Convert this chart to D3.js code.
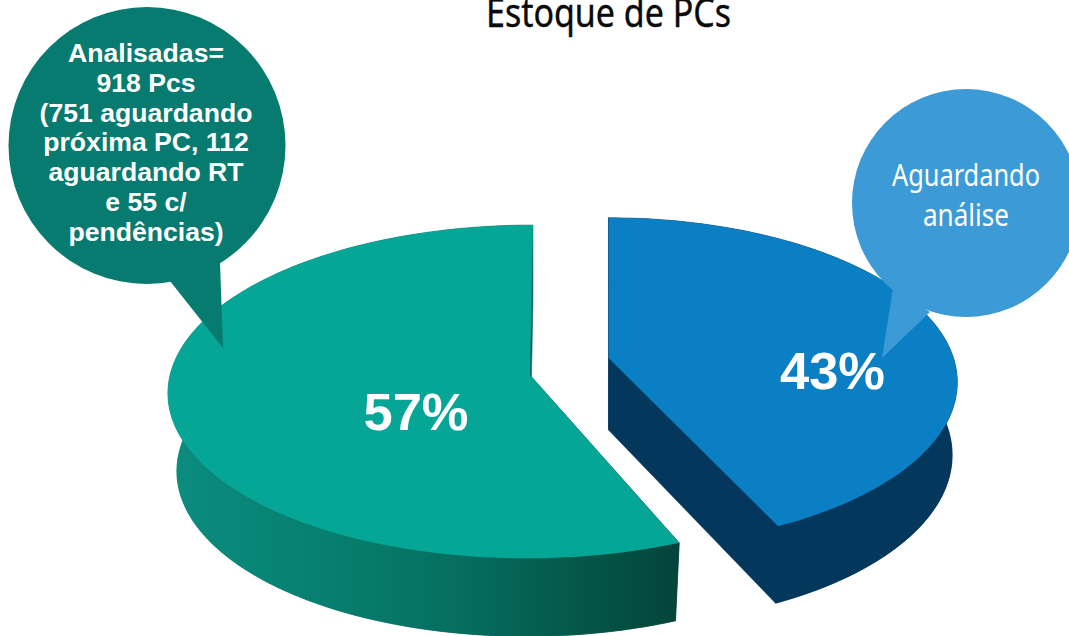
<!DOCTYPE html>
<html><head><meta charset="utf-8">
<script src="https://cdn.jsdelivr.net/npm/d3@7/dist/d3.min.js"></script>
<style>html,body{margin:0;padding:0;background:#fff;overflow:hidden}svg{display:block}</style>
</head><body><svg id="c" width="1069" height="636"></svg>
<script>
const categories = ["Aguardando análise", "Analisadas"];
const shares = [43, 57];
const shareLabels = ["43%", "57%"];
const titleText = "Estoque de PCs";
const greenCallout = ["Analisadas=", "918 Pcs", "(751 aguardando", "próxima PC, 112", "aguardando RT", "e 55 c/", "pendências)"];
const blueCallout = ["Aguardando", "análise"];

const svg = d3.select("#c");
const defs = svg.append("defs");
const grad = defs.append("linearGradient").attr("id", "gw").attr("gradientUnits", "userSpaceOnUse")
  .attr("x1", 175).attr("x2", 680).attr("y1", 0).attr("y2", 0);
[[0, "#0b8c7e"], [0.3, "#067f70"], [0.55, "#066f60"], [0.8, "#045749"], [1, "#03443a"]]
  .forEach(([o, c]) => grad.append("stop").attr("offset", o).attr("stop-color", c));

// Perspective view of each exploded slice
const views = [
  {cx: 608.5, cy: 358, A: 345, B: 161, k: 0.148, c: 0, trim: 0, depth: 72, sa: 0.985, sb: 1.03, top: "#0a7fc4", wall: "#04375c"},
  {cx: 530, cy: 375, A: 360, B: 165, k: 0.10, c: 3.3, trim: 0.045, depth: 78, sa: 0.975, sb: 1.0, top: "#05a696", wall: "url(#gw)"}
];
const project = (v, a, r, lvl) => {
  const X = r * Math.sin(a), Y = r * Math.cos(a);
  const w = 1 + v.k * Y;
  const sa = 1 + (v.sa - 1) * lvl, sb = 1 + (v.sb - 1) * lvl;
  return [v.cx + sa * (v.A * X + v.c * Y) / w, v.cy - sb * v.B * Y / w + v.depth * lvl];
};
const line = d3.line();
const arcs = d3.pie().sort(null)(shares);
const angles = (a0, a1) => d3.range(0, 121).map(i => d3.interpolateNumber(a0, a1)(i / 120));

arcs.forEach((d, i) => {
  const v = views[i];
  const a0 = d.startAngle + v.trim, a1 = d.endAngle;
  const as = angles(a0, a1);
  const outline = lvl => as.map(a => project(v, a, 1, lvl));
  const apex = lvl => project(v, 0, 0, lvl);
  const g = svg.append("g").attr("class", "slice").attr("data-category", categories[i]);
  const w = g.append("g").attr("fill", v.wall).attr("stroke", v.wall).attr("stroke-width", 0.5);
  w.append("path").attr("d", line([apex(1), ...outline(1)]) + "Z");
  w.append("path").attr("d", line([...outline(0), ...outline(1).reverse()]) + "Z");
  w.append("path").attr("d", line([apex(0), outline(0)[0], outline(1)[0], apex(1)]) + "Z");
  g.append("path").attr("fill", v.top).attr("d", line([apex(0), ...outline(0)]) + "Z");
});

// Callouts
const bubble = (cx, cy, r, tail, fill) => {
  const g = svg.append("g").attr("fill", fill);
  g.append("circle").attr("cx", cx).attr("cy", cy).attr("r", r);
  g.append("path").attr("d", line(tail) + "Z");
};
bubble(147, 145.5, 138.5, [[170, 281], [223, 348], [220, 262]], "#077b70");
bubble(966, 203, 114, [[893, 288], [882, 358], [930, 312]], "#3c9bd6");

const bold = "'Liberation Sans', Arial, sans-serif";
svg.append("g").selectAll("text").data(greenCallout).join("text")
  .attr("x", 146).attr("y", (d, i) => 62 + i * 29.8).attr("text-anchor", "middle")
  .attr("font-family", bold).attr("font-weight", 700).attr("font-size", 26.6).attr("fill", "#fff").text(d => d);

const condensed = (sel, len) => sel.attr("textLength", len).attr("lengthAdjust", "spacingAndGlyphs");
const blueWidths = [148, 86];
svg.append("g").selectAll("text").data(blueCallout).join("text")
  .attr("x", 966).attr("y", (d, i) => 186 + i * 40).attr("text-anchor", "middle")
  .attr("font-family", "'Noto Sans', sans-serif").attr("font-size", 30).attr("fill", "#fff")
  .text(d => d).each(function (d, i) { condensed(d3.select(this), blueWidths[i]); });

const labelPos = [[832.5, 389], [416, 430]];
svg.append("g").selectAll("text").data(shareLabels).join("text")
  .attr("x", (d, i) => labelPos[i][0]).attr("y", (d, i) => labelPos[i][1]).attr("text-anchor", "middle")
  .attr("font-family", bold).attr("font-weight", 700).attr("font-size", 52.5).attr("fill", "#fff").text(d => d);

condensed(svg.append("text").attr("x", 608.5).attr("y", 27).attr("text-anchor", "middle")
  .attr("font-family", "'Noto Sans', sans-serif").attr("font-size", 40).attr("fill", "#0a0a0a")
  .attr("stroke", "#0a0a0a").attr("stroke-width", 0.4).text(titleText), 245);
</script></body></html>
